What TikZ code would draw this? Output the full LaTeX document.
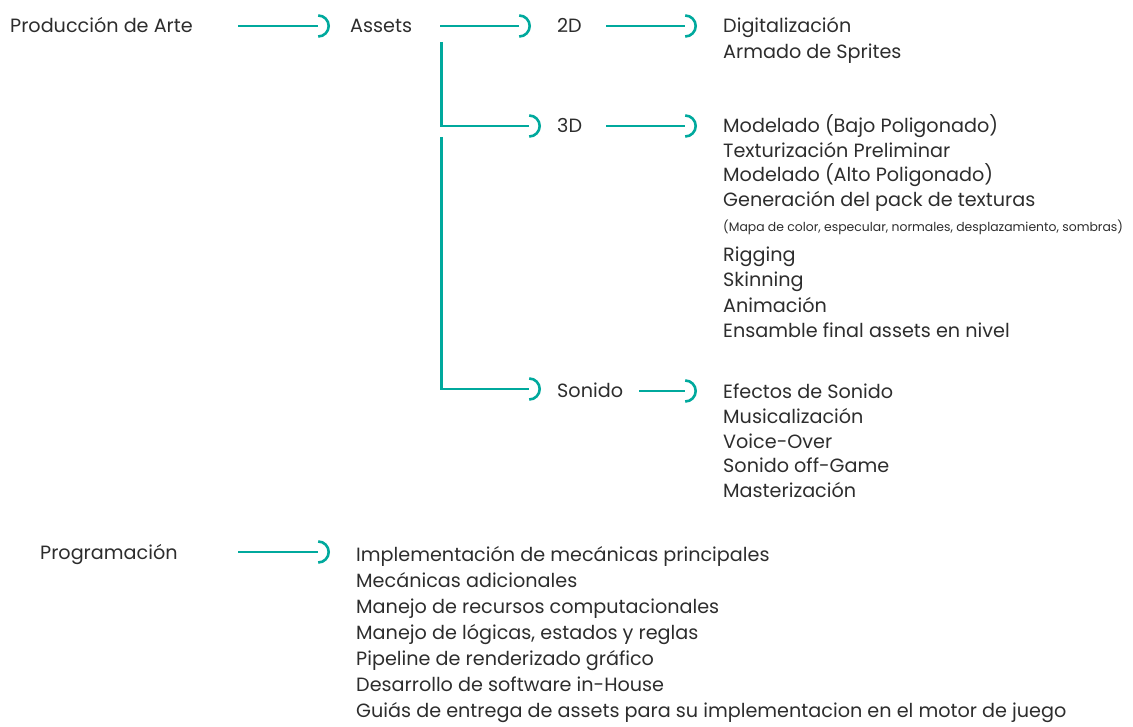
\documentclass[tikz,border=0pt]{standalone}
\usepackage{fontspec}
\setmainfont{Poppins}
\usetikzlibrary{arrows.meta}
\definecolor{tl}{RGB}{0,169,157}
\definecolor{tx}{RGB}{45,45,45}
\pgfdeclarearrow{
  name=Cup,
  setup code={
    \pgfarrowssettipend{11.8pt}
    \pgfarrowssetlineend{0pt}
    \pgfarrowssetbackend{0pt}
    \pgfarrowshullpoint{11.8pt}{0pt}
    \pgfarrowsupperhullpoint{0pt}{11.8pt}
  },
  drawing code={
    \pgfpathmoveto{\pgfqpoint{0pt}{-10.5pt}}
    \pgfpatharc{-90}{90}{10.5pt}
    \pgfusepathqstroke
  }
}
\begin{document}
\begin{tikzpicture}[x=1pt,y=-1pt,
  lbl/.style={anchor=west, inner sep=0pt, text height=16pt, text depth=2pt, text=tx, font=\fontsize{19.2}{22}\selectfont},
  sm/.style={anchor=west, inner sep=0pt, text height=9pt, text depth=1.5pt, text=tx, font=\fontsize{12.4}{14}\selectfont},
  arr/.style={draw=tl, line width=2.6pt, -Cup}
]
\useasboundingbox (0,0) rectangle (1133,727);
% level 0
\node[lbl] (prod) at (10,26) {Producción de Arte};
\node[lbl] (assets) at (350,26) {Assets};
\node[lbl] (d2) at (557,26) {2D};
\node[lbl] (d3) at (557,126) {3D};
\node[lbl] (son) at (557,391) {Sonido};
\node[lbl] (prog) at (40,552) {Programación};
% 2D list
\node[lbl] (a1) at (723,26) {Digitalización};
\node[lbl] (a2) at (723,52) {Armado de Sprites};
% 3D list
\node[lbl] (b1) at (723,126) {Modelado (Bajo Poligonado)};
\node[lbl] (b2) at (723,151) {Texturización Preliminar};
\node[lbl] (b3) at (723,175) {Modelado (Alto Poligonado)};
\node[lbl] (b4) at (723,200) {Generación del pack de texturas};
\node[sm]  (b4s) at (723,228) {(Mapa de color, especular, normales, desplazamiento, sombras)};
\node[lbl] (b5) at (723,255) {Rigging};
\node[lbl] (b6) at (723,280) {Skinning};
\node[lbl] (b7) at (723,306) {Animación};
\node[lbl] (b8) at (723,331) {Ensamble final assets en nivel};
% Sonido list
\node[lbl] (c1) at (723,392) {Efectos de Sonido};
\node[lbl] (c2) at (723,416) {Musicalización};
\node[lbl] (c3) at (723,441) {Voice-Over};
\node[lbl] (c4) at (723,465) {Sonido off-Game};
\node[lbl] (c5) at (723,490) {Masterización};
% Programacion list
\node[lbl] (p1) at (356,554) {Implementación de mecánicas principales};
\node[lbl] (p2) at (356,580) {Mecánicas adicionales};
\node[lbl] (p3) at (356,606) {Manejo de recursos computacionales};
\node[lbl] (p4) at (356,632) {Manejo de lógicas, estados y reglas};
\node[lbl] (p5) at (356,658) {Pipeline de renderizado gráfico};
\node[lbl] (p6) at (356,684) {Desarrollo de software in-House};
\node[lbl] (p7) at (356,710) {Guiás de entrega de assets para su implementacion en el motor de juego};
% connectors
\coordinate (br1) at (441.5,42);
\coordinate (br2) at (441.5,137);
\draw[arr] (238,0 |- prod.west) -- (330,0 |- prod.west);
\draw[arr] (440,0 |- assets.west) -- (531,0 |- assets.west);
\draw[arr] (606,0 |- d2.west) -- (697,0 |- d2.west);
\draw[arr] (br1) |- (541,0 |- d3.west);
\draw[arr] (606,0 |- d3.west) -- (697,0 |- d3.west);
\draw[arr] (br2) |- (541,389);
\draw[arr] (639,0 |- son.west) -- (697,0 |- son.west);
\draw[arr] (238,0 |- prog.west) -- (330,0 |- prog.west);
\end{tikzpicture}
\end{document}
